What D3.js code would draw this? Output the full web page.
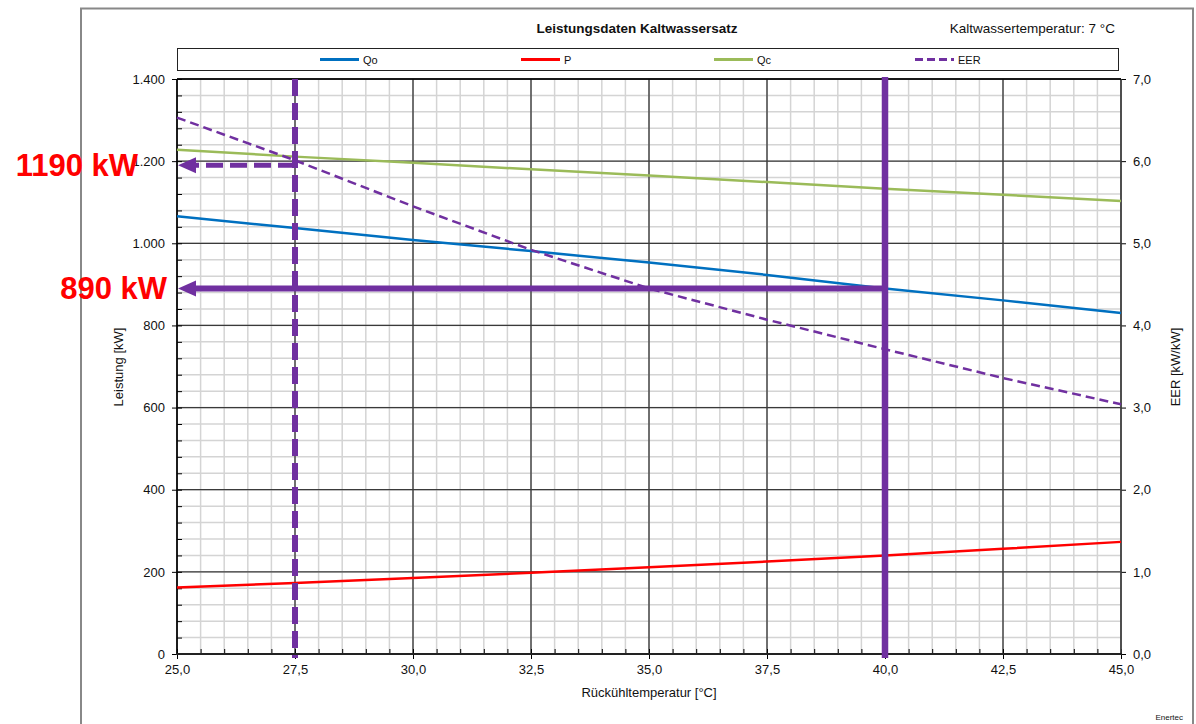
<!DOCTYPE html>
<html><head><meta charset="utf-8">
<script src="https://cdn.jsdelivr.net/npm/d3@7"></script>
<style>body{margin:0;background:#fff}svg{display:block;font-family:"Liberation Sans",Arial,sans-serif}</style>
</head><body>
<svg id="c" width="1196" height="724"></svg>
<script>
const temps = [25, 27.5, 30, 32.5, 35, 37.5, 40, 42.5, 45];
const qo = [1066, 1037, 1008, 981, 953, 923, 890, 861, 830];
const p = [162, 173, 185, 198, 211, 225, 240, 256, 273];
const qc = [1228, 1211, 1196, 1180, 1165, 1149, 1133, 1118, 1103];
const eer = [6.53, 6.01, 5.45, 4.92, 4.45, 4.07, 3.71, 3.36, 3.04];
const xTicks = [25, 27.5, 30, 32.5, 35, 37.5, 40, 42.5, 45];
const yTicks = [0, 200, 400, 600, 800, 1000, 1200, 1400];
const yRTicks = [0, 1, 2, 3, 4, 5, 6, 7];
const markTemps = [27.5, 40];
const markPower = [1190, 890];
const markLabels = ["1190 kW", "890 kW"];

const svg = d3.select("#c");
const x = d3.scaleLinear().domain([25, 45]).range([177, 1121]);
const y = d3.scaleLinear().domain([0, 1400]).range([654, 79]);
const yR = d3.scaleLinear().domain([0, 7]).range([654, 79]);
const fmtX = v => d3.format(".1f")(v).replace(".", ",");
const fmtY = v => d3.format(",")(v).replace(/,/g, ".");

// outer frame
svg.append("path").attr("d", "M81,740V8.5H1193V740").attr("fill", "none").attr("stroke", "#888").attr("stroke-width", 2);

// minor grid
const g = svg.append("g");
d3.range(25, 45.01, 0.5).forEach(v => {
  g.append("line").attr("x1", x(v)).attr("x2", x(v)).attr("y1", 79).attr("y2", 654).attr("stroke", "#d4d4d4").attr("stroke-width", 1.5);
});
d3.range(0, 1400.1, 40).forEach(v => {
  g.append("line").attr("x1", 177).attr("x2", 1121).attr("y1", y(v)).attr("y2", y(v)).attr("stroke", "#d4d4d4").attr("stroke-width", 1.5);
});
// major grid
xTicks.forEach(v => {
  g.append("line").attr("x1", x(v)).attr("x2", x(v)).attr("y1", 79).attr("y2", 654).attr("stroke", "#000").attr("stroke-width", 1);
});
yTicks.forEach(v => {
  g.append("line").attr("x1", 177).attr("x2", 1121).attr("y1", y(v)).attr("y2", y(v)).attr("stroke", "#3a3a3a").attr("stroke-width", 1.3);
});

// axes
const ax = svg.append("g").attr("font-size", 13).attr("fill", "#000");
const axisStyle = sel => { sel.select(".domain").remove(); sel.selectAll("text").attr("fill", "#111").attr("font-size", 13).attr("font-family", '"Liberation Sans",Arial,sans-serif'); sel.selectAll("line").attr("stroke", "#000"); };
svg.append("g").attr("transform", "translate(0,654)")
  .call(d3.axisBottom(x).tickValues(xTicks).tickFormat(fmtX).tickSize(5).tickPadding(6)).call(axisStyle);
svg.append("g").attr("transform", "translate(0,654)")
  .call(d3.axisTop(x).tickValues(d3.range(25, 45.01, 0.5)).tickFormat("").tickSize(5)).call(axisStyle);
svg.append("g").attr("transform", "translate(177,0)")
  .call(d3.axisLeft(y).tickValues(yTicks).tickFormat(fmtY).tickSize(5).tickPadding(7)).call(axisStyle);
svg.append("g").attr("transform", "translate(177,0)")
  .call(d3.axisRight(y).tickValues(d3.range(0, 1400.1, 40)).tickFormat("").tickSize(5)).call(axisStyle);
svg.append("g").attr("transform", "translate(1121,0)")
  .call(d3.axisRight(yR).tickValues(yRTicks).tickFormat(d => d3.format(".1f")(d).replace(".", ",")).tickSize(5).tickPadding(7)).call(axisStyle);

// plot frame
svg.append("line").attr("x1", 177).attr("x2", 177).attr("y1", 79).attr("y2", 655).attr("stroke", "#000").attr("stroke-width", 1.5);
svg.append("line").attr("x1", 1121).attr("x2", 1121).attr("y1", 79).attr("y2", 655).attr("stroke", "#444").attr("stroke-width", 1.5);
svg.append("line").attr("x1", 177).attr("x2", 1121).attr("y1", 79).attr("y2", 79).attr("stroke", "#000").attr("stroke-width", 1.5);
svg.append("line").attr("x1", 176).attr("x2", 1122).attr("y1", 654).attr("y2", 654).attr("stroke", "#222").attr("stroke-width", 2.2);

// series
const line = (ys, sc) => d3.line().x((d, i) => x(temps[i])).y(d => sc(d))(ys);
svg.append("path").attr("d", line(qc, y)).attr("fill", "none").attr("stroke", "#9bbb59").attr("stroke-width", 2.5);
svg.append("path").attr("d", line(qo, y)).attr("fill", "none").attr("stroke", "#0070c0").attr("stroke-width", 2.5);
svg.append("path").attr("d", line(p, y)).attr("fill", "none").attr("stroke", "#ff0000").attr("stroke-width", 2.5);
svg.append("path").attr("d", line(eer, yR)).attr("fill", "none").attr("stroke", "#7030a0").attr("stroke-width", 2.5).attr("stroke-dasharray", "9,5");

// markers
const purple = "#7030a0";
// vertical dashed at 27.5
svg.append("line").attr("x1", x(markTemps[0])).attr("x2", x(markTemps[0])).attr("y1", 79).attr("y2", 658)
  .attr("stroke", purple).attr("stroke-width", 6).attr("stroke-dasharray", "17,7");
// vertical solid at 40
svg.append("line").attr("x1", x(markTemps[1])).attr("x2", x(markTemps[1])).attr("y1", 77).attr("y2", 658)
  .attr("stroke", purple).attr("stroke-width", 6.5);
// horizontal dashed at 1190
svg.append("line").attr("x1", x(markTemps[0])).attr("x2", 192).attr("y1", y(markPower[0])).attr("y2", y(markPower[0]))
  .attr("stroke", purple).attr("stroke-width", 5).attr("stroke-dasharray", "17,7");
// horizontal solid at 890
svg.append("line").attr("x1", x(markTemps[1])).attr("x2", 192).attr("y1", y(markPower[1])).attr("y2", y(markPower[1]))
  .attr("stroke", purple).attr("stroke-width", 6);
markPower.forEach(v => {
  const yy = y(v);
  svg.append("path").attr("d", `M178,${yy}L196,${yy - 8}L196,${yy + 8}Z`).attr("fill", purple);
});
// red labels
const lblX = [138, 167];
markPower.forEach((v, i) => {
  svg.append("text").attr("x", lblX[i]).attr("y", y(v) + 11).attr("text-anchor", "end")
    .attr("font-size", 31).attr("font-weight", "bold").attr("fill", "#ff0000").text(markLabels[i]);
});

// titles
svg.append("text").attr("x", 637).attr("y", 33).attr("text-anchor", "middle").attr("font-size", 13.5).attr("font-weight", "bold").attr("fill", "#111").text("Leistungsdaten Kaltwassersatz");
svg.append("text").attr("x", 1115).attr("y", 33).attr("text-anchor", "end").attr("font-size", 13.5).attr("fill", "#111").text("Kaltwassertemperatur: 7 °C");
svg.append("text").attr("transform", "translate(123,367) rotate(-90)").attr("text-anchor", "middle").attr("font-size", 13).attr("fill", "#111").text("Leistung [kW]");
svg.append("text").attr("transform", "translate(1180,367) rotate(-90)").attr("text-anchor", "middle").attr("font-size", 13).attr("fill", "#111").text("EER [kW/kW]");
svg.append("text").attr("x", 649).attr("y", 697).attr("text-anchor", "middle").attr("font-size", 13).attr("fill", "#111").text("Rückühltemperatur [°C]");
svg.append("text").attr("x", 1183).attr("y", 720).attr("text-anchor", "end").attr("font-size", 8).attr("fill", "#111").text("Enertec");

// legend
const names = ["Qo", "P", "Qc", "EER"];
const colors = ["#0070c0", "#ff0000", "#9bbb59", purple];
const legX = [320, 521, 714, 915];
svg.append("rect").attr("x", 177.5).attr("y", 48.5).attr("width", 941).attr("height", 22).attr("fill", "#fff").attr("stroke", "#222").attr("stroke-width", 1);
names.forEach((n, i) => {
  svg.append("line").attr("x1", legX[i]).attr("x2", legX[i] + 39).attr("y1", 59.5).attr("y2", 59.5)
    .attr("stroke", colors[i]).attr("stroke-width", 3).attr("stroke-dasharray", i === 3 ? "8,4" : null);
  svg.append("text").attr("x", legX[i] + 43).attr("y", 63.5).attr("font-size", 11).attr("fill", "#111").text(n);
});
</script>
</body></html>
